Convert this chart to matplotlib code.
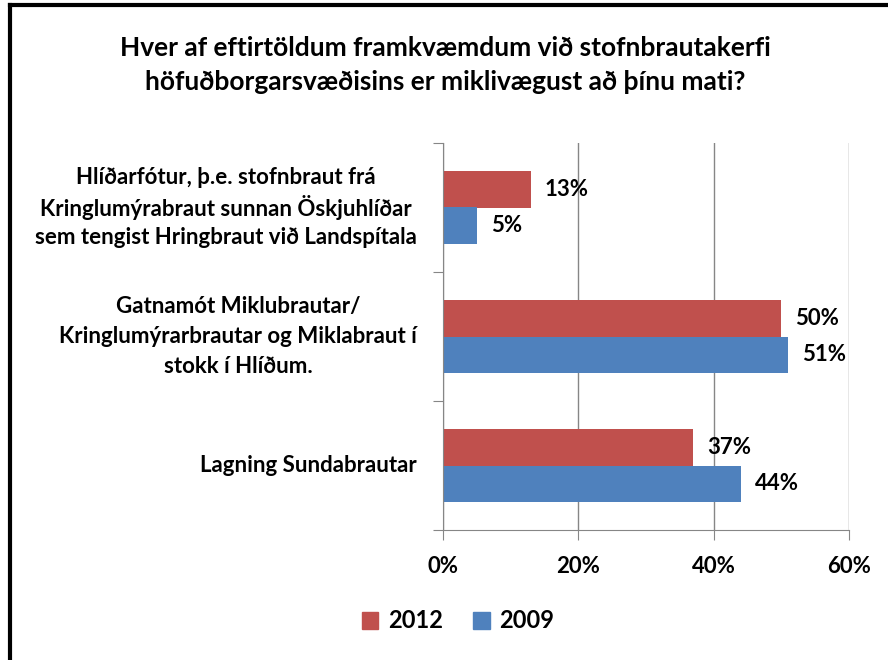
import matplotlib
matplotlib.use("Agg")
import matplotlib.pyplot as plt
from matplotlib.lines import Line2D
from matplotlib.transforms import offset_copy
import numpy as np

title_lines = ["Hver af eftirtöldum framkvæmdum við stofnbrautakerfi",
               "höfuðborgarsvæðisins er miklivægust að þínu mati?"]
categories = [
    ["Hlíðarfótur, þ.e. stofnbraut frá", "Kringlumýrabraut sunnan Öskjuhlíðar", "sem tengist Hringbraut við Landspítala"],
    ["Gatnamót Miklubrautar/", "Kringlumýrarbrautar og Miklabraut í", "stokk í Hlíðum."],
    ["Lagning Sundabrautar"],
]
series_names = ["2012", "2009"]
values_2012 = [13, 50, 37]
values_2009 = [5, 51, 44]
xticks = [0, 20, 40, 60]
xticklabels = ["0%", "20%", "40%", "60%"]

red = "#C0504D"
blue = "#4F81BD"
font = ["Lato", "DejaVu Sans"]
plt.rcParams['font.family'] = font

fig = plt.figure(figsize=(8.88, 6.6), dpi=100)
W, H = 888, 660
ax = fig.add_axes([443 / W, 1 - 530 / H, (849 - 443) / W, (530 - 143) / H])

n = len(categories)
pos = np.arange(n)[::-1]  # top to bottom
h = 0.285
ax.barh(pos + h / 2, values_2012, height=h, color=red, label=series_names[0])
ax.barh(pos - h / 2, values_2009, height=h, color=blue, label=series_names[1])

for p, v in zip(pos, values_2012):
    ax.annotate(f"{v}%", (v, p + h / 2), xytext=(10, 0), textcoords="offset points",
                va="center", ha="left", fontsize=16, fontweight="bold")
for p, v in zip(pos, values_2009):
    ax.annotate(f"{v}%", (v, p - h / 2), xytext=(10, 0), textcoords="offset points",
                va="center", ha="left", fontsize=16, fontweight="bold")

ax.set_xlim(0, 60)
ax.set_ylim(-0.5, n - 0.5)
ax.set_xticks(xticks)
ax.set_xticklabels(xticklabels, fontsize=16, fontweight="bold")
ax.set_yticks([-0.5, 0.5, 1.5, 2.5])
ax.set_yticklabels([])
ax.tick_params(axis="y", length=7, color="#868686", direction="out")
ax.tick_params(axis="x", length=7, color="#868686", direction="out", pad=12)
ax.xaxis.grid(True, color="#868686", linewidth=1)
ax.set_axisbelow(True)
for s in ["top", "right"]:
    ax.spines[s].set_visible(False)
for s in ["left", "bottom"]:
    ax.spines[s].set_color("#868686")

# category labels: each line placed separately, lines centred within the block,
# block right-aligned 26 px left of the axis
line_px = 30
right_px = 26
fs_cat = 16
yt = ax.get_yaxis_transform()
renderer = fig.canvas.get_renderer()
for p, lines in zip(pos, categories):
    k = len(lines)
    texts = []
    for i, ln in enumerate(lines):
        dy = ((k - 1) / 2 - i) * line_px * 0.72
        t = ax.text(0, p, ln, transform=offset_copy(yt, fig=fig, x=0, y=dy, units="points"),
                    ha="center", va="center", fontsize=fs_cat, fontweight="bold")
        texts.append((t, dy))
    widths = [t.get_window_extent(renderer).width for t, _ in texts]
    maxw = max(widths)
    cx = -(right_px + maxw / 2)  # px
    for t, dy in texts:
        t.set_transform(offset_copy(yt, fig=fig, x=cx * 0.72, y=dy, units="points"))

for i, ln in enumerate(title_lines):
    fig.text(445 / W, 1 - (48 + 34 * i) / H, ln, ha="center", va="center", fontsize=19,
             fontweight="bold")

handles = [plt.Rectangle((0, 0), 1, 1, color=red), plt.Rectangle((0, 0), 1, 1, color=blue)]
fig.legend(handles, series_names, loc="center", bbox_to_anchor=(458 / W, 1 - 621 / H), ncol=2,
           frameon=False, prop={"size": 17, "weight": "bold"}, handlelength=0.7, handleheight=0.7,
           handletextpad=0.4, columnspacing=1.3)

# figure border (left and top)
fig.add_artist(Line2D([10 / W, 10 / W], [0, 1 - 5 / H], color="black", linewidth=3))
fig.add_artist(Line2D([10 / W, 1], [1 - 5 / H, 1 - 5 / H], color="black", linewidth=3))

fig.savefig("out.png", dpi=100, facecolor="white")
